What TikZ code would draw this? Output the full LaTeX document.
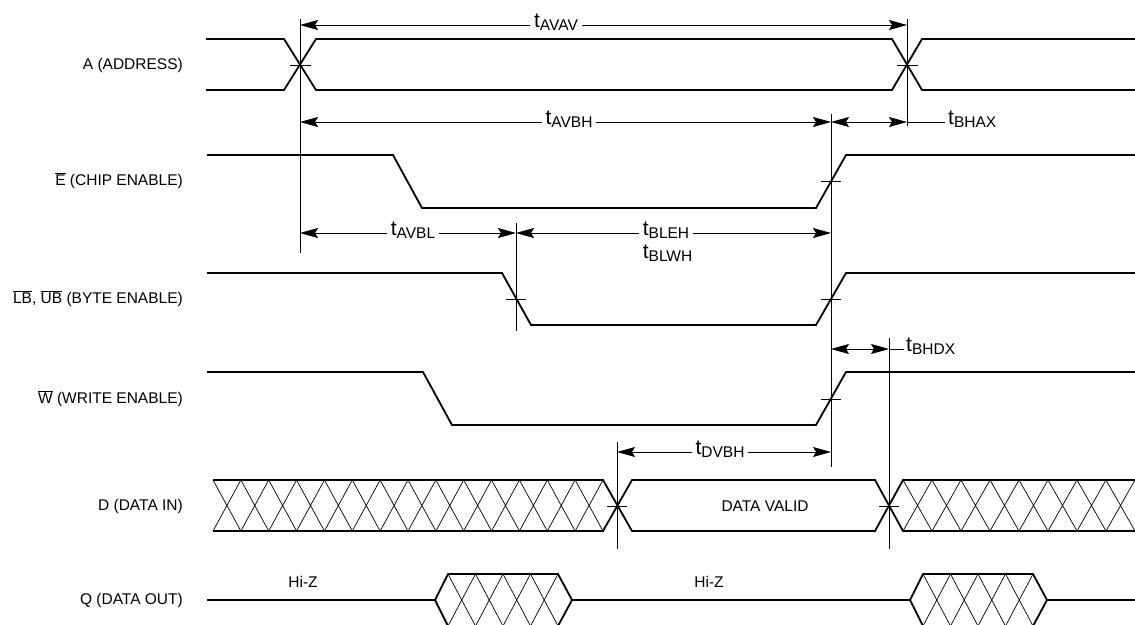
\documentclass[tikz,border=0pt]{standalone}
\usepackage{fontspec}
\setmainfont{Liberation Sans}
\usetikzlibrary{arrows.meta}
\newcommand{\tm}[1]{{\fontsize{21}{22}\selectfont t}\raisebox{-3pt}{#1}}
\newcommand{\ovl}[1]{$\overline{\hbox{#1}}$}
\tikzset{
	sig/.style={line width=1.8pt},
	dim/.style={line width=0.8pt},
	hatch/.style={line width=0.7pt},
	dimarr/.style={dim,{Stealth[length=18pt,width=10pt,inset=3pt]}-{Stealth[length=18pt,width=10pt,inset=3pt]}},
	tlab/.style={fill=white,inner xsep=4pt,inner ysep=1pt,yshift=3pt},
	siglab/.style={anchor=east,inner sep=0pt}
}
\begin{document}
\begin{tikzpicture}[x=1pt,y=-1pt,font=\fontsize{15.5}{18}\selectfont]
	\useasboundingbox (0,0) rectangle (1135,624);
	% signal names
	\node[siglab] (la) at (183,65) {A (ADDRESS)};
	\node[siglab] (le) at (183,181) {\ovl{E} (CHIP ENABLE)};
	\node[siglab] (lb) at (183,299) {\ovl{LB}, \ovl{UB} (BYTE ENABLE)};
	\node[siglab] (lw) at (183,399) {\ovl{W} (WRITE ENABLE)};
	\node[siglab] (ld) at (183,506) {D (DATA IN)};
	\node[siglab] (lq) at (183,600) {Q (DATA OUT)};
	% A
	\draw[sig] (206,39)--(284,39)--(316,90)--(892,90)--(922,39)--(1135,39);
	\draw[sig] (206,90)--(284,90)--(316,39)--(892,39)--(922,90)--(1135,90);
	\draw[dim] (290,65)--(311,65) (897,65)--(918,65);
	% E
	\draw[sig] (207,155)--(393,155)--(422,208)--(816,208)--(846,155)--(1135,155);
	\draw[dim] (821,181)--(841,181);
	% LB, UB
	\draw[sig] (207,273)--(502,273)--(531,325)--(816,325)--(846,273)--(1135,273);
	\draw[dim] (506,299)--(526,299) (821,299)--(841,299);
	% W
	\draw[sig] (207,372)--(423,372)--(452,425)--(816,425)--(846,372)--(1135,372);
	\draw[dim] (821,399)--(841,399);
	% D
	\draw[sig] (213,480)--(603,480)--(632,531)--(875,531)--(903,480)--(1135,480);
	\draw[sig] (213,531)--(603,531)--(632,480)--(875,480)--(903,531)--(1135,531);
	\foreach \i in {0,...,13}
		\draw[hatch] ({213+27.857*\i},480)--({213+27.857*(\i+1)},531) ({213+27.857*\i},531)--({213+27.857*(\i+1)},480);
	\foreach \i in {0,...,7}
		\draw[hatch] ({903+29*\i},480)--({903+29*(\i+1)},531) ({903+29*\i},531)--({903+29*(\i+1)},480);
	\draw[dim] (607,506)--(627,506) (879,506)--(899,506);
	\node (dv) at (765,506) {DATA VALID};
	% Q
	\draw[sig] (207,600)--(435,600)--(448,574)--(558,574)--(572,600)--(910,600)--(923,574)--(1033,574)--(1047,600)--(1135,600);
	\draw[sig] (435,600)--(448,626)--(558,626)--(572,600) (910,600)--(923,626)--(1033,626)--(1047,600);
	\foreach \s in {448,923}
		\foreach \i in {0,...,3}
			\draw[hatch] ({\s+27.5*\i},574)--({\s+27.5*(\i+1)},626) ({\s+27.5*\i},626)--({\s+27.5*(\i+1)},574);
	\node (hz1) at (303,582) {Hi-Z};
	\node (hz2) at (709,582) {Hi-Z};
	% reference lines
	\draw[dim] (300,19)--(300,253) (907,19)--(907,126) (831,114)--(831,467)
		(516,223)--(516,331) (889,338)--(889,549) (617,442)--(617,549);
	% timings
	\draw[dimarr] (300,25)--(907,25);
	\node[tlab] (tavav) at (556,25) {\tm{AVAV}};
	\draw[dimarr] (300,122)--(831,122);
	\node[tlab] (tavbh) at (569,122) {\tm{AVBH}};
	\draw[dimarr] (831,122)--(907,122);
	\draw[dim] (907,122)--(945,122);
	\node[tlab,anchor=west,inner xsep=3pt] (tbhax) at (945,122) {\tm{BHAX}};
	\draw[dimarr] (300,233)--(516,233);
	\node[tlab] (tavbl) at (413,233) {\tm{AVBL}};
	\draw[dimarr] (516,233)--(831,233);
	\node[tlab] (tbleh) at (666,233) {\tm{BLEH}};
	\node[anchor=west,inner xsep=4pt,inner ysep=0pt] (tblwh) at ([yshift=-23pt]tbleh.west) {\tm{BLWH}};
	\draw[dimarr] (831,349)--(889,349);
	\draw[dim] (889,349)--(904,349);
	\node[tlab,anchor=west,inner xsep=2pt] (tbhdx) at (904,349) {\tm{BHDX}};
	\draw[dimarr] (617,452)--(831,452);
	\node[tlab] (tdvbh) at (720,452) {\tm{DVBH}};
\end{tikzpicture}
\end{document}
